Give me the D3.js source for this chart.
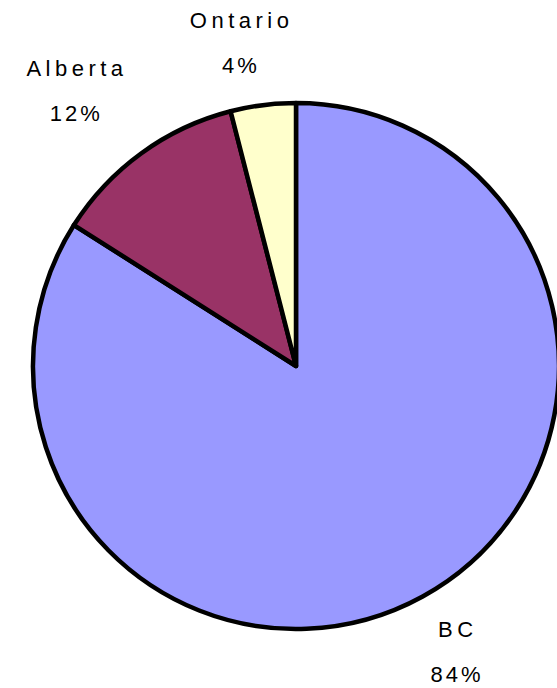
<!DOCTYPE html>
<html><head><meta charset="utf-8">
<script src="https://cdn.jsdelivr.net/npm/d3@7"></script>
<style>html,body{margin:0;padding:0;background:#fff;}svg{display:block;}</style>
</head><body>
<svg id="chart" width="557" height="688"></svg>
<script>
const categories = ["BC", "Alberta", "Ontario"];
const values = [84, 12, 4];
const percentLabels = ["84%", "12%", "4%"];
const colors = ["#9999FF", "#993366", "#FFFFCC"];

const svg = d3.select("#chart");
const cx = 296, cy = 366, r = 263;
const g = svg.append("g").attr("transform", `translate(${cx},${cy})`);

const pie = d3.pie().sort(null).value(d => d.v);
const data = categories.map((c, i) => ({ c, v: values[i], p: percentLabels[i], col: colors[i] }));
const arcs = pie(data);
const arc = d3.arc().innerRadius(0).outerRadius(r);

g.selectAll("path").data(arcs).join("path")
  .attr("d", arc)
  .attr("fill", d => d.data.col)
  .attr("stroke", "#000")
  .attr("stroke-width", 4.5)
  .attr("stroke-linejoin", "round");

// label block placement (outside end)
const Kx = 356, Cx = -12, Ky = 262, Hy = 59.5, Cy = 4;
const lab = g.selectAll("g.lab").data(arcs).join("g").attr("class", "lab")
  .attr("transform", d => {
    const a = (d.startAngle + d.endAngle) / 2;
    const s = Math.sin(a), c = Math.cos(a);
    const x = Kx * s + Cx;
    const y = -Ky * c - Math.sign(c) * Hy + Cy;
    return `translate(${x},${y})`;
  });
const nameLS = 4.5, pctLS = 3;
lab.append("text").attr("text-anchor", "middle").attr("y", -22.5).attr("x", nameLS / 2)
  .attr("font-family", "Liberation Sans, Arial, sans-serif").attr("font-size", 22)
  .attr("letter-spacing", nameLS).attr("fill", "#000")
  .text(d => d.data.c);
lab.append("text").attr("text-anchor", "middle").attr("y", 22.5).attr("x", pctLS / 2)
  .attr("font-family", "Liberation Sans, Arial, sans-serif").attr("font-size", 22)
  .attr("letter-spacing", pctLS).attr("fill", "#000")
  .text(d => d.data.p);
</script>
</body></html>
